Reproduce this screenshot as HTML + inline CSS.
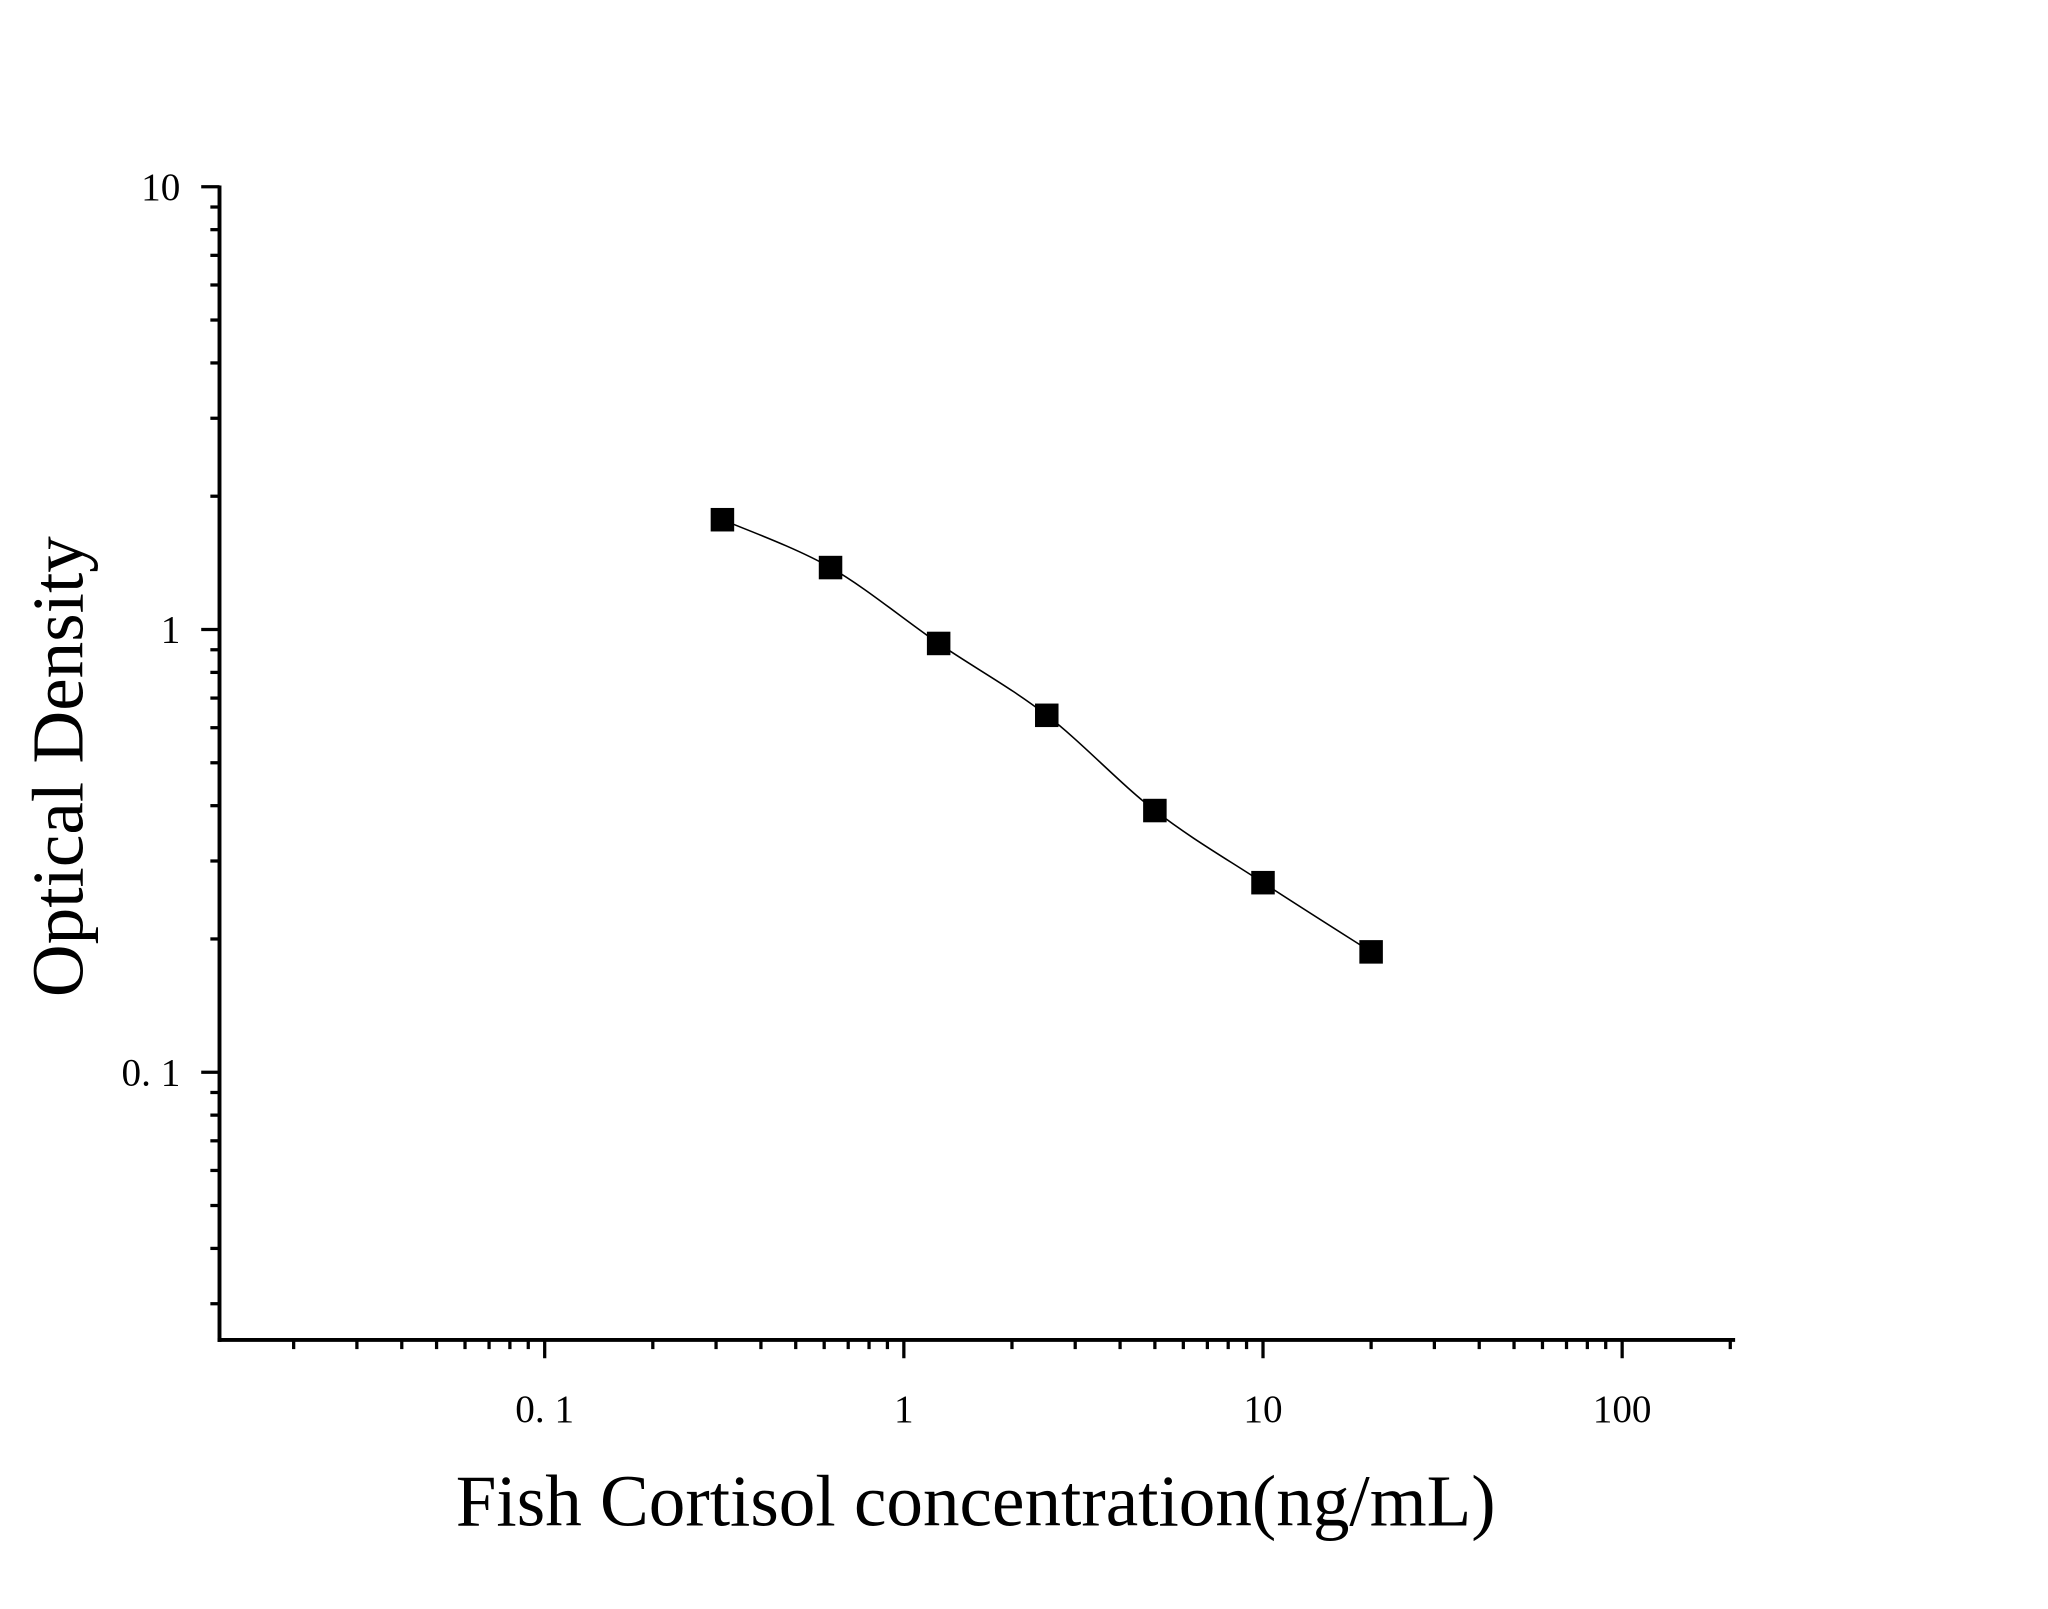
<!DOCTYPE html>
<html><head><meta charset="utf-8"><style>
html,body{margin:0;padding:0;background:#fff;}
svg{display:block;}
text{font-family:"Liberation Serif",serif;fill:#000;}
</style></head><body>
<svg id="chart" width="2048" height="1609" viewBox="0 0 1568 1232" xmlns="http://www.w3.org/2000/svg">
<g id="axes"></g>
<g id="plot"></g>
<text x="747" y="1168" font-size="56" text-anchor="middle">Fish Cortisol concentration(ng/mL)</text>
<text transform="translate(63,587) rotate(-90)" font-size="56" text-anchor="middle">Optical Density</text>
</svg>
<script>
const concentrations = [0.3125, 0.625, 1.25, 2.5, 5, 10, 20];
const odValues = [1.77, 1.38, 0.93, 0.64, 0.39, 0.268, 0.187];
const xTickValues = [0.1, 1, 10, 100];
const xTickLabels = ["0. 1", "1", "10", "100"];
const yTickValues = [0.1, 1, 10];
const yTickLabels = ["0. 1", "1", "10"];

const NS = "http://www.w3.org/2000/svg";
const X0 = 168, X1 = 1327, Y0 = 1026, Y1 = 143;
const xMinLog = Math.log10(0.1) - (417 - X0) / 275;
const xDec = 275;
function xs(v){ return 417 + (Math.log10(v) - (-1)) * xDec; }
function ys(v){ return 482 - Math.log10(v) * 339; }
const axes = document.getElementById('axes');
const plot = document.getElementById('plot');
function line(p, x1, y1, x2, y2, w, name){
  const l = document.createElementNS(NS, 'line');
  l.setAttribute('x1', x1); l.setAttribute('y1', y1); l.setAttribute('x2', x2); l.setAttribute('y2', y2);
  l.setAttribute('stroke', '#000'); l.setAttribute('stroke-width', w);
  
  
  p.appendChild(l); return l;
}
line(axes, X0, Y1 - 1, X0, Y0 + 1.5, 3, 'y-axis-line');
line(axes, X0 - 1.5, Y0, X1 + 1.5, Y0, 3, 'x-axis-line');
// x minor ticks
for (let d = -2; d <= 2; d++) {
  for (let m = 2; m <= 9; m++) {
    const v = m * Math.pow(10, d);
    const x = xs(v);
    if (x < X0 + 2 || x > X1 + 1) continue;
    line(axes, x, Y0, x, Y0 + 7, 2.5, 'x-minor-tick');
  }
}
// y minor ticks
for (let d = -2; d <= 0; d++) {
  for (let m = 2; m <= 9; m++) {
    const v = m * Math.pow(10, d);
    const y = ys(v);
    if (y > Y0 - 2 || y < Y1) continue;
    line(axes, X0 - 7, y, X0, y, 2.5, 'y-minor-tick');
  }
}
xTickValues.forEach((v, i) => {
  const x = xs(v);
  line(axes, x, Y0, x, Y0 + 14, 2.5, 'x-major-tick');
  const t = document.createElementNS(NS, 'text');
  t.setAttribute('x', x); t.setAttribute('y', Y0 + 63);
  t.setAttribute('font-size', '30'); t.setAttribute('text-anchor', 'middle');
  
  
  t.textContent = xTickLabels[i];
  axes.appendChild(t);
});
yTickValues.forEach((v, i) => {
  const y = ys(v);
  line(axes, X0 - 14, y, X0, y, 2.5, 'y-major-tick');
  const t = document.createElementNS(NS, 'text');
  t.setAttribute('x', X0 - 30); t.setAttribute('y', y + 10);
  t.setAttribute('font-size', '30'); t.setAttribute('text-anchor', 'end');
  
  
  t.textContent = yTickLabels[i];
  axes.appendChild(t);
});
// smooth curve (Catmull-Rom in log space)
const pts = concentrations.map((c, i) => [xs(c), ys(odValues[i])]);
let d = 'M' + pts[0][0] + ',' + pts[0][1];
for (let i = 0; i < pts.length - 1; i++) {
  const p0 = pts[Math.max(0, i - 1)], p1 = pts[i], p2 = pts[i + 1], p3 = pts[Math.min(pts.length - 1, i + 2)];
  const c1x = p1[0] + (p2[0] - p0[0]) / 6, c1y = p1[1] + (p2[1] - p0[1]) / 6;
  const c2x = p2[0] - (p3[0] - p1[0]) / 6, c2y = p2[1] - (p3[1] - p1[1]) / 6;
  d += ' C' + c1x + ',' + c1y + ' ' + c2x + ',' + c2y + ' ' + p2[0] + ',' + p2[1];
}
const path = document.createElementNS(NS, 'path');
path.setAttribute('d', d); path.setAttribute('fill', 'none');
path.setAttribute('stroke', '#000'); path.setAttribute('stroke-width', '1.2');


plot.appendChild(path);
pts.forEach(p => {
  const r = document.createElementNS(NS, 'rect');
  r.setAttribute('x', p[0] - 9); r.setAttribute('y', p[1] - 9);
  r.setAttribute('width', 18); r.setAttribute('height', 18);
  r.setAttribute('fill', '#000');
  
  
  plot.appendChild(r);
});
</script>
</body></html>
